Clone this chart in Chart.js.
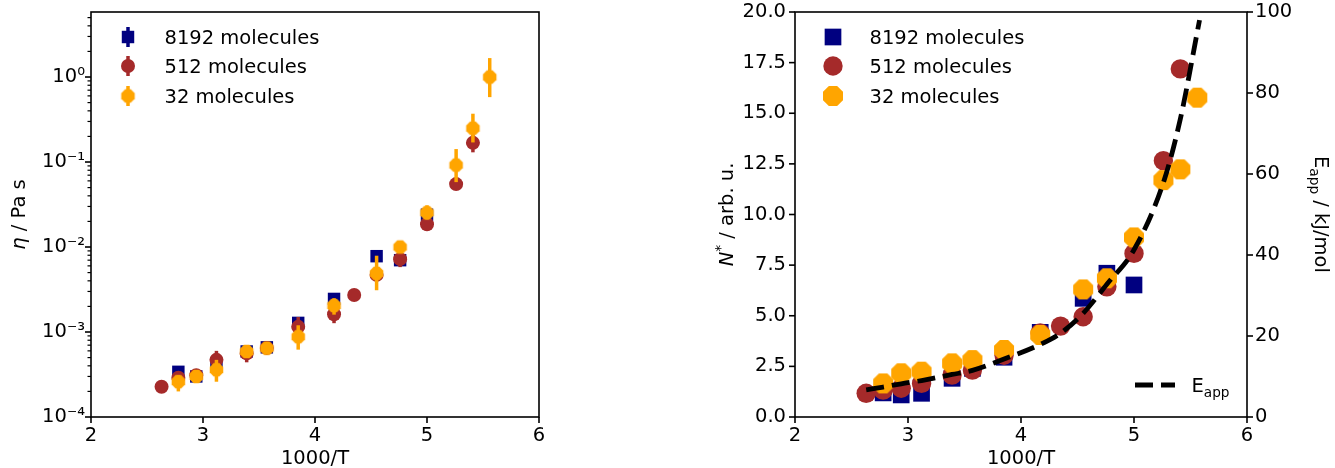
<!DOCTYPE html>
<html>
<head>
<meta charset="utf-8">
<script src="https://cdn.jsdelivr.net/npm/chart.js@4.4.1/dist/chart.umd.min.js"></script>
<style>
  html, body { margin: 0; padding: 0; background: #fff; }
  #wrap { position: relative; width: 1335px; height: 468px; }
  canvas { position: absolute; top: 0; }
  #etaChart { left: 0; }
  #nChart { left: 700px; }
</style>
</head>
<body>
<div id="wrap">
  <canvas id="etaChart" width="560" height="468"></canvas>
  <canvas id="nChart" width="635" height="468"></canvas>
</div>
<script>
// inverse temperature, 1000/T
const invT = [2.63, 2.78, 2.94, 3.12, 3.39, 3.57, 3.85, 4.17, 4.35, 4.55, 4.76, 5.00, 5.26, 5.41, 5.56];

// viscosity (Pa s) per system size, null where no run
const eta8192 = [null, 3.4e-4, 3.0e-4, 4.2e-4, 5.9e-4, 6.6e-4, 1.28e-3, 2.45e-3, null, 7.8e-3, 7.0e-3, 2.4e-2, null, null, null];
const eta512  = [2.27e-4, 2.9e-4, 3.1e-4, 4.7e-4, 5.6e-4, 6.5e-4, 1.15e-3, 1.62e-3, 2.72e-3, 4.7e-3, 7.2e-3, 1.85e-2, 0.055, 0.168, null];
const eta32   = [null, 2.6e-4, 3.0e-4, 3.6e-4, 5.9e-4, 6.45e-4, 8.8e-4, 2.05e-3, null, 4.9e-3, 1.0e-2, 2.53e-2, 0.092, 0.25, 1.0];

// error bar ranges [low, high]
const eta8192Err = [null, [3.1e-4, 3.7e-4], [2.8e-4, 3.2e-4], [3.9e-4, 4.5e-4], [5.4e-4, 6.4e-4], [6.2e-4, 7.1e-4], [1.2e-3, 1.4e-3], [2.2e-3, 2.7e-3], null, [7.0e-3, 8.8e-3], [6.5e-3, 7.6e-3], [2.2e-2, 2.6e-2], null, null, null];
const eta512Err  = [[2.1e-4, 2.4e-4], [2.6e-4, 3.1e-4], [2.9e-4, 3.3e-4], [3.8e-4, 6.0e-4], [4.4e-4, 6.3e-4], [6.0e-4, 7.0e-4], [1.0e-3, 1.5e-3], [1.27e-3, 1.95e-3], [2.55e-3, 2.9e-3], [4.3e-3, 5.3e-3], [5.8e-3, 8.5e-3], [1.7e-2, 2.1e-2], [0.05, 0.06], [0.13, 0.21], null];
const eta32Err   = [null, [2.0e-4, 3.1e-4], [2.75e-4, 3.3e-4], [2.6e-4, 4.7e-4], [5.2e-4, 6.6e-4], [5.7e-4, 7.4e-4], [6.2e-4, 1.2e-3], [1.6e-3, 2.5e-3], null, [3.1e-3, 7.9e-3], [8.8e-3, 1.1e-2], [2.1e-2, 3.1e-2], [0.058, 0.142], [0.17, 0.37], [0.58, 1.67]];

// N* (arb. u.)
const n8192 = [null, 1.19, 1.09, 1.17, 1.91, 2.40, 2.95, 4.18, null, 5.86, 7.10, 6.52, null, null, null];
const n512  = [1.17, 1.33, 1.42, 1.66, 2.07, 2.32, 3.05, 4.15, 4.49, 4.95, 6.43, 8.08, 12.66, 17.19, null];
const n32   = [null, 1.66, 2.16, 2.24, 2.65, 2.81, 3.31, 4.05, null, 6.30, 6.85, 8.87, 11.70, 12.23, 15.77];

// apparent activation energy curve (kJ/mol)
const eAppX = [2.63, 2.78, 2.94, 3.12, 3.39, 3.57, 3.85, 4.17, 4.35, 4.55, 4.76, 5.00, 5.26, 5.41, 5.58];
const eApp  = [6.7, 7.4, 8.2, 9.0, 10.5, 11.5, 14.3, 17.9, 20.7, 25.6, 32.8, 41.3, 57.9, 73.6, 98.0];

const NAVY = '#000080';
const BROWN = '#a52a2a';
const ORANGE = '#ffa500';
const FAMILY = '"DejaVu Sans", sans-serif';
const SIZE = 19.5;

Chart.defaults.font.family = FAMILY;
Chart.defaults.font.size = SIZE;
Chart.defaults.color = '#000';

function octagon(d, color) {
    const R = d / 2 / Math.cos(Math.PI / 8);
    const s = Math.ceil(2 * R) + 2;
    const c = document.createElement('canvas');
    c.width = c.height = s;
    const g = c.getContext('2d');
    g.fillStyle = color;
    g.beginPath();
    for (let k = 0; k < 8; k++) {
        const a = Math.PI / 8 + k * Math.PI / 4;
        g.lineTo(s / 2 + R * Math.cos(a), s / 2 + R * Math.sin(a));
    }
    g.closePath();
    g.fill();
    return c;
}

function points(xs, ys, errs) {
    const out = [];
    ys.forEach((y, i) => {
        if (y !== null) out.push({ x: xs[i], y: y, err: errs ? errs[i] : null });
    });
    return out;
}

const SUP = { '-': '\u207b', '0': '\u2070', '1': '\u00b9', '2': '\u00b2', '3': '\u00b3', '4': '\u2074' };
function decadeLabel(v) {
    const e = Math.log10(v);
    if (Math.abs(e - Math.round(e)) > 1e-9) return '';
    return '10' + String(Math.round(e)).split('').map(ch => SUP[ch]).join('');
}

// text with italic / sub / superscript pieces
function drawRich(ctx, parts, x, y, rot, align) {
    const fontOf = p => (p.it ? 'italic ' : '') + ((p.sub || p.sup) ? SIZE * 0.7 : SIZE) + 'px ' + FAMILY;
    ctx.save();
    ctx.translate(x, y);
    ctx.rotate(rot || 0);
    ctx.fillStyle = '#000';
    ctx.textBaseline = 'alphabetic';
    ctx.textAlign = 'left';
    const widths = parts.map(p => { ctx.font = fontOf(p); return ctx.measureText(p.t).width; });
    const total = widths.reduce((a, b) => a + b, 0);
    let cx = align === 'left' ? 0 : -total / 2;
    const base = SIZE * 0.36;
    parts.forEach((p, i) => {
        ctx.font = fontOf(p);
        const dy = p.sub ? SIZE * 0.24 : (p.sup ? -SIZE * 0.42 : 0);
        ctx.fillText(p.t, cx, base + dy);
        cx += widths[i];
    });
    ctx.restore();
}

function drawMarker(ctx, ds, x, y) {
    const st = ds.pointStyle;
    ctx.fillStyle = ds.backgroundColor;
    if (st instanceof HTMLCanvasElement) {
        ctx.drawImage(st, x - st.width / 2, y - st.height / 2);
    } else if (st === 'rect') {
        const h = ds.pointRadius * Math.SQRT1_2;
        ctx.fillRect(x - h, y - h, 2 * h, 2 * h);
    } else {
        ctx.beginPath();
        ctx.arc(x, y, ds.pointRadius, 0, 2 * Math.PI);
        ctx.fill();
    }
}

const errorBars = {
    id: 'errorBars',
    beforeDatasetDraw(chart, args) {
        const ds = chart.data.datasets[args.index];
        if (!ds.errWidth) return;
        const yScale = chart.scales[ds.yAxisID || 'y'];
        const ctx = chart.ctx;
        ctx.save();
        ctx.strokeStyle = ds.backgroundColor;
        ctx.lineWidth = ds.errWidth;
        args.meta.data.forEach((pt, j) => {
            const e = ds.data[j].err;
            if (!e) return;
            ctx.beginPath();
            ctx.moveTo(pt.x, yScale.getPixelForValue(e[0]));
            ctx.lineTo(pt.x, yScale.getPixelForValue(e[1]));
            ctx.stroke();
        });
        ctx.restore();
    }
};

// axes box, tick marks, axis titles and legend
const deco = {
    id: 'deco',
    afterDraw(chart, args, opts) {
        const ctx = chart.ctx;
        const a = chart.chartArea;
        ctx.save();
        ctx.strokeStyle = '#000';
        ctx.lineWidth = 1.6;
        ctx.strokeRect(a.left, a.top, a.right - a.left, a.bottom - a.top);
        Object.values(chart.scales).forEach(s => {
            s.ticks.forEach(t => {
                if (t.value < s.min - 1e-12 || t.value > s.max + 1e-12) return;
                if (s.type === 'logarithmic') {
                    const m = t.value / Math.pow(10, Math.floor(Math.log10(t.value) + 1e-9));
                    if (Math.abs(m - Math.round(m)) > 1e-6) return;
                }
                const major = t.label !== '';
                const len = major ? 6 : 3.5;
                ctx.lineWidth = major ? 1.6 : 1.2;
                const p = s.getPixelForValue(t.value);
                ctx.beginPath();
                if (s.position === 'left') { ctx.moveTo(a.left, p); ctx.lineTo(a.left - len, p); }
                else if (s.position === 'right') { ctx.moveTo(a.right, p); ctx.lineTo(a.right + len, p); }
                else { ctx.moveTo(p, a.bottom); ctx.lineTo(p, a.bottom + len); }
                ctx.stroke();
            });
        });
        ctx.restore();

        const midY = (a.top + a.bottom) / 2;
        const midX = (a.left + a.right) / 2;
        drawRich(ctx, [{ t: '1000/T' }], midX, 457, 0);
        opts.titles.forEach(tt => drawRich(ctx, tt.parts, tt.x, midY, tt.rot));

        opts.legend.forEach(item => {
            const ds = chart.data.datasets[item.ds];
            if (ds.showLine) {
                ctx.save();
                ctx.strokeStyle = ds.borderColor;
                ctx.lineWidth = ds.borderWidth;
                ctx.setLineDash(ds.borderDash);
                ctx.beginPath();
                ctx.moveTo(item.x - 20, item.y);
                ctx.lineTo(item.x + 20, item.y);
                ctx.stroke();
                ctx.restore();
            } else {
                if (ds.errWidth) {
                    ctx.save();
                    ctx.strokeStyle = ds.backgroundColor;
                    ctx.lineWidth = ds.errWidth;
                    ctx.beginPath();
                    ctx.moveTo(item.x, item.y - 10);
                    ctx.lineTo(item.x, item.y + 10);
                    ctx.stroke();
                    ctx.restore();
                }
                drawMarker(ctx, ds, item.x, item.y);
            }
            drawRich(ctx, ds.legendText || [{ t: ds.label }], item.x + 36.5, item.y, 0, 'left');
        });
    }
};

const noGrid = { display: false, drawTicks: false };
const noBorder = { display: false };

// fixed axis box sizes, no extra room reserved for overhanging labels
function fixSize(prop, v) {
    return s => {
        s[prop] = v;
        s.paddingTop = s.paddingBottom = s.paddingLeft = s.paddingRight = 0;
    };
}

new Chart(document.getElementById('etaChart'), {
    type: 'scatter',
    data: {
        datasets: [
            { label: '8192 molecules', data: points(invT, eta8192, eta8192Err), backgroundColor: NAVY, borderColor: NAVY,
              pointStyle: 'rect', pointRadius: 8.8, borderWidth: 0, errWidth: 3.5, order: 3 },
            { label: '512 molecules', data: points(invT, eta512, eta512Err), backgroundColor: BROWN, borderColor: BROWN,
              pointStyle: 'circle', pointRadius: 7, borderWidth: 0, errWidth: 3.5, order: 2 },
            { label: '32 molecules', data: points(invT, eta32, eta32Err), backgroundColor: ORANGE, borderColor: ORANGE,
              pointStyle: octagon(13.5, ORANGE), pointRadius: 7, borderWidth: 0, errWidth: 3.5, order: 1 }
        ]
    },
    options: {
        responsive: false,
        animation: false,
        events: [],
        layout: { padding: { top: 12, right: 21, left: 0, bottom: 0 } },
        plugins: {
            legend: { display: false },
            tooltip: { enabled: false },
            deco: {
                titles: [{ parts: [{ t: '\u03b7', it: true }, { t: ' / Pa s' }], x: 18, rot: -Math.PI / 2 }],
                legend: [{ ds: 0, x: 128, y: 37 }, { ds: 1, x: 128, y: 66 }, { ds: 2, x: 128, y: 96 }]
            }
        },
        scales: {
            x: {
                type: 'linear', min: 2, max: 6,
                ticks: { stepSize: 1, padding: 7 },
                grid: noGrid, border: noBorder,
                afterFit: fixSize('height', 51)
            },
            y: {
                type: 'logarithmic', min: 1e-4, max: 5.82,
                ticks: { autoSkip: false, padding: 6, callback: v => decadeLabel(v) },
                grid: noGrid, border: noBorder,
                afterFit: fixSize('width', 91)
            }
        }
    },
    plugins: [errorBars, deco]
});

new Chart(document.getElementById('nChart'), {
    type: 'scatter',
    data: {
        datasets: [
            { label: '8192 molecules', data: points(invT, n8192), backgroundColor: NAVY, borderColor: NAVY,
              pointStyle: 'rect', pointRadius: 11.8, borderWidth: 0, order: 4 },
            { label: '512 molecules', data: points(invT, n512), backgroundColor: BROWN, borderColor: BROWN,
              pointStyle: 'circle', pointRadius: 9.7, borderWidth: 0, order: 3 },
            { label: '32 molecules', data: points(invT, n32), backgroundColor: ORANGE, borderColor: ORANGE,
              pointStyle: octagon(20, ORANGE), pointRadius: 10, borderWidth: 0, order: 2 },
            { label: 'Eapp', legendText: [{ t: 'E' }, { t: 'app', sub: true }],
              data: points(eAppX, eApp), yAxisID: 'y1', showLine: true, pointRadius: 0,
              borderColor: '#000', backgroundColor: '#000', borderWidth: 4.8, borderDash: [18, 8],
              cubicInterpolationMode: 'monotone', order: 1 }
        ]
    },
    options: {
        responsive: false,
        animation: false,
        events: [],
        layout: { padding: { top: 12, right: 0, left: 0, bottom: 0 } },
        plugins: {
            legend: { display: false },
            tooltip: { enabled: false },
            deco: {
                titles: [
                    { parts: [{ t: 'N', it: true }, { t: '*', sup: true }, { t: ' / arb. u.' }], x: 26, rot: -Math.PI / 2 },
                    { parts: [{ t: 'E' }, { t: 'app', sub: true }, { t: ' / kJ/mol' }], x: 622, rot: Math.PI / 2 }
                ],
                legend: [{ ds: 0, x: 133, y: 37 }, { ds: 1, x: 133, y: 66 }, { ds: 2, x: 133, y: 96 }, { ds: 3, x: 455, y: 385 }]
            }
        },
        scales: {
            x: {
                type: 'linear', min: 2, max: 6,
                ticks: { stepSize: 1, padding: 7 },
                grid: noGrid, border: noBorder,
                afterFit: fixSize('height', 51)
            },
            y: {
                type: 'linear', position: 'left', min: 0, max: 20,
                ticks: { stepSize: 2.5, padding: 9, callback: v => v.toFixed(1) },
                grid: noGrid, border: noBorder,
                afterFit: fixSize('width', 95)
            },
            y1: {
                type: 'linear', position: 'right', min: 0, max: 100,
                ticks: { stepSize: 20, padding: 8 },
                grid: noGrid, border: noBorder,
                afterFit: fixSize('width', 88)
            }
        }
    },
    plugins: [errorBars, deco]
});
</script>
</body>
</html>
